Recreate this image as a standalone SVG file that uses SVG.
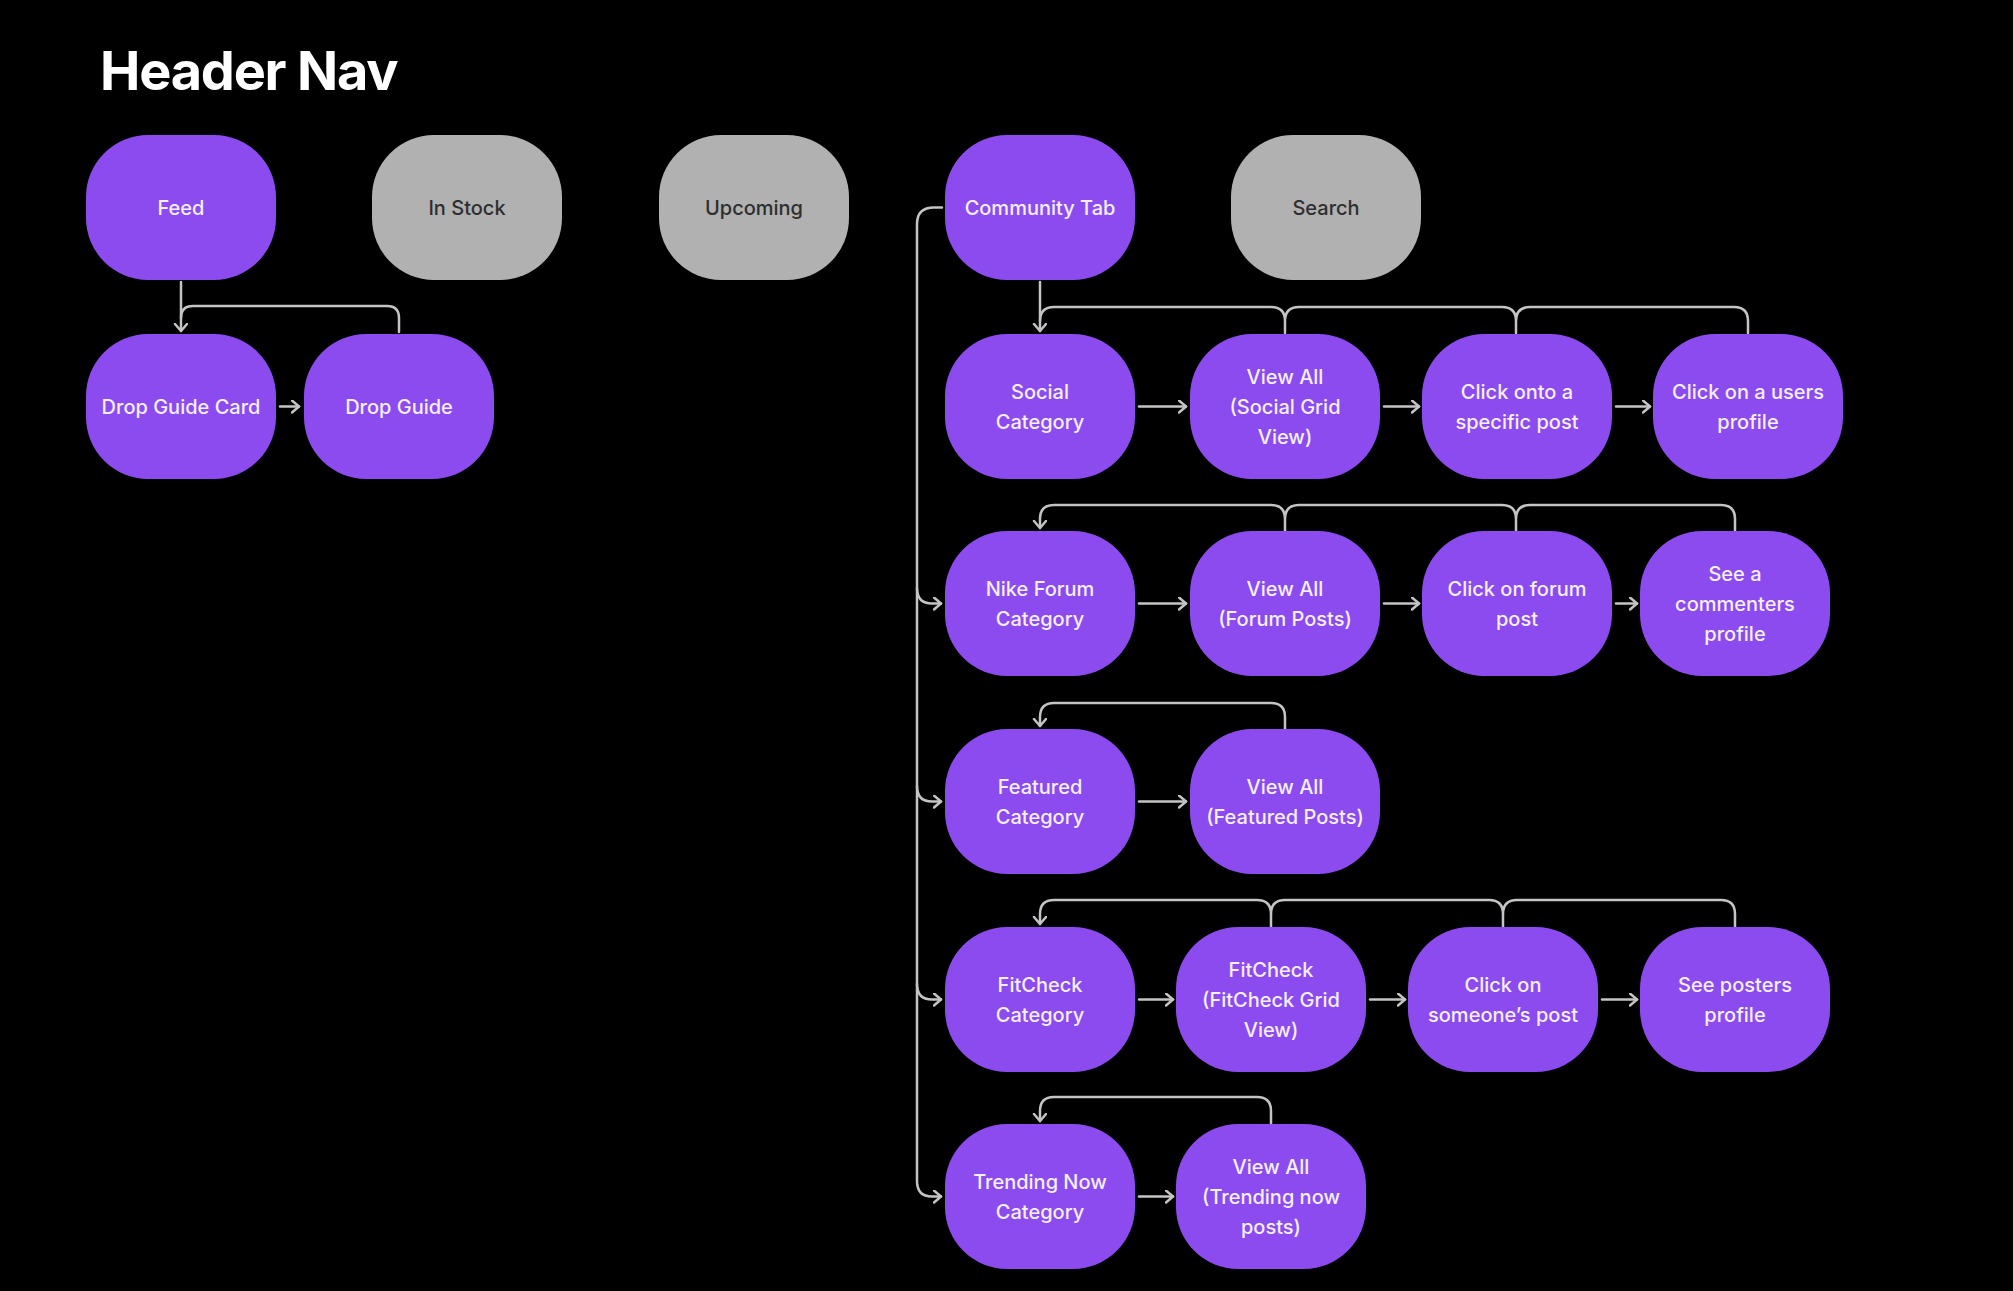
<svg xmlns="http://www.w3.org/2000/svg" width="2013" height="1291" viewBox="0 0 2013 1291">
  <defs>
    <marker id="arr" markerUnits="userSpaceOnUse" markerWidth="14" markerHeight="16" refX="8" refY="7" orient="auto">
      <path d="M1,1 L8,7 L1,13" fill="none" stroke="#c4c4c4" stroke-width="2.5" stroke-linecap="round" stroke-linejoin="round"/>
    </marker>
  </defs>
  <style>
    .bg{fill:#000}
    .p{fill:#8c4bef}
    .g{fill:#b1b1b1}
    .t{font-family:Inter,"Noto Sans","Liberation Sans",sans-serif;font-size:20px;font-weight:500;text-anchor:middle;fill:#f3effc}
    .td{fill:#2e2e2e}
    .c{fill:none;stroke:#c4c4c4;stroke-width:2.5;stroke-linecap:round;stroke-linejoin:round}
    .h{font-family:Inter,"Liberation Sans",sans-serif;font-size:54px;font-weight:700;fill:#fff;letter-spacing:-1.2px}
  </style>
  <rect class="bg" width="2013" height="1291"/>
  <text class="h" x="100" y="90">Header Nav</text>

  <g id="connectors">
    <!-- Feed branch -->
    <path class="c" d="M181,282 L181,331" marker-end="url(#arr)"/>
    <path class="c" d="M399,332 L399,318 Q399,306 387,306 L193,306 Q181,306 181,318"/>
    <path class="c" d="M280,406.5 L299,406.5" marker-end="url(#arr)"/>
    <!-- Community tab spine -->
    <path class="c" d="M942,207.5 L934,207.5 Q917,207.5 917,224 L917,1181 Q917,1196.5 932,1196.5 L941,1196.5" marker-end="url(#arr)"/>
    <path class="c" d="M917,588 Q917,603.5 932,603.5 L941,603.5" marker-end="url(#arr)"/>
    <path class="c" d="M917,786 Q917,801.5 932,801.5 L941,801.5" marker-end="url(#arr)"/>
    <path class="c" d="M917,984 Q917,999.5 932,999.5 L941,999.5" marker-end="url(#arr)"/>
    <!-- Row 2 -->
    <path class="c" d="M1040,282 L1040,331" marker-end="url(#arr)"/>
    <path class="c" d="M1040,321 Q1040,307 1054,307 L1271,307 Q1285,307 1285,321 L1285,333 M1285,321 Q1285,307 1299,307 L1502,307 Q1516,307 1516,321 L1516,333 M1516,321 Q1516,307 1530,307 L1734,307 Q1748,307 1748,321 L1748,333"/>
    <path class="c" d="M1139,406.5 L1186,406.5" marker-end="url(#arr)"/>
    <path class="c" d="M1384,406.5 L1419,406.5" marker-end="url(#arr)"/>
    <path class="c" d="M1616,406.5 L1650,406.5" marker-end="url(#arr)"/>
    <!-- Row 3 -->
    <path class="c" d="M1735,531 L1735,519 Q1735,505 1721,505 L1530,505 Q1516,505 1516,519 L1516,531 M1516,519 Q1516,505 1502,505 L1299,505 Q1285,505 1285,519 L1285,531 M1285,519 Q1285,505 1271,505 L1054,505 Q1040,505 1040,519 L1040,528" marker-end="url(#arr)"/>
    <path class="c" d="M1139,603.5 L1186,603.5" marker-end="url(#arr)"/>
    <path class="c" d="M1384,603.5 L1419,603.5" marker-end="url(#arr)"/>
    <path class="c" d="M1616,603.5 L1637,603.5" marker-end="url(#arr)"/>
    <!-- Row 4 -->
    <path class="c" d="M1285,729 L1285,717 Q1285,703 1271,703 L1054,703 Q1040,703 1040,717 L1040,726" marker-end="url(#arr)"/>
    <path class="c" d="M1139,801.5 L1186,801.5" marker-end="url(#arr)"/>
    <!-- Row 5 -->
    <path class="c" d="M1735,927 L1735,914 Q1735,900 1721,900 L1517,900 Q1503,900 1503,914 L1503,927 M1503,914 Q1503,900 1489,900 L1285,900 Q1271,900 1271,914 L1271,927 M1271,914 Q1271,900 1257,900 L1054,900 Q1040,900 1040,914 L1040,924" marker-end="url(#arr)"/>
    <path class="c" d="M1139,999.5 L1173,999.5" marker-end="url(#arr)"/>
    <path class="c" d="M1370,999.5 L1405,999.5" marker-end="url(#arr)"/>
    <path class="c" d="M1602,999.5 L1637,999.5" marker-end="url(#arr)"/>
    <!-- Row 6 -->
    <path class="c" d="M1271,1124 L1271,1111 Q1271,1097 1257,1097 L1054,1097 Q1040,1097 1040,1111 L1040,1121" marker-end="url(#arr)"/>
    <path class="c" d="M1139,1196.5 L1173,1196.5" marker-end="url(#arr)"/>
  </g>

  <g id="feed"><rect class="p" x="86" y="135" width="190" height="145" rx="62"/><text class="t" x="181" y="214.5">Feed</text></g>
  <g id="in-stock"><rect class="g" x="372" y="135" width="190" height="145" rx="62"/><text class="t td" x="467" y="214.5">In Stock</text></g>
  <g id="upcoming"><rect class="g" x="659" y="135" width="190" height="145" rx="62"/><text class="t td" x="754" y="214.5">Upcoming</text></g>
  <g id="community-tab"><rect class="p" x="945" y="135" width="190" height="145" rx="62"/><text class="t" x="1040" y="214.5">Community Tab</text></g>
  <g id="search"><rect class="g" x="1231" y="135" width="190" height="145" rx="62"/><text class="t td" x="1326" y="214.5">Search</text></g>

  <g id="drop-guide-card"><rect class="p" x="86" y="334" width="190" height="145" rx="62"/><text class="t" x="181" y="413.5">Drop Guide Card</text></g>
  <g id="drop-guide"><rect class="p" x="304" y="334" width="190" height="145" rx="62"/><text class="t" x="399" y="413.5">Drop Guide</text></g>

  <g id="social-category"><rect class="p" x="945" y="334" width="190" height="145" rx="62"/><text class="t" x="1040" y="398.5">Social</text><text class="t" x="1040" y="428.5">Category</text></g>
  <g id="view-all-social"><rect class="p" x="1190" y="334" width="190" height="145" rx="62"/><text class="t" x="1285" y="383.5">View All</text><text class="t" x="1285" y="413.5">(Social Grid</text><text class="t" x="1285" y="443.5">View)</text></g>
  <g id="click-onto-post"><rect class="p" x="1422" y="334" width="190" height="145" rx="62"/><text class="t" x="1517" y="398.5">Click onto a</text><text class="t" x="1517" y="428.5">specific post</text></g>
  <g id="click-users-profile"><rect class="p" x="1653" y="334" width="190" height="145" rx="62"/><text class="t" x="1748" y="398.5">Click on a users</text><text class="t" x="1748" y="428.5">profile</text></g>

  <g id="nike-forum-category"><rect class="p" x="945" y="531" width="190" height="145" rx="62"/><text class="t" x="1040" y="595.5">Nike Forum</text><text class="t" x="1040" y="625.5">Category</text></g>
  <g id="view-all-forum"><rect class="p" x="1190" y="531" width="190" height="145" rx="62"/><text class="t" x="1285" y="595.5">View All</text><text class="t" x="1285" y="625.5">(Forum Posts)</text></g>
  <g id="click-forum-post"><rect class="p" x="1422" y="531" width="190" height="145" rx="62"/><text class="t" x="1517" y="595.5">Click on forum</text><text class="t" x="1517" y="625.5">post</text></g>
  <g id="see-commenters-profile"><rect class="p" x="1640" y="531" width="190" height="145" rx="62"/><text class="t" x="1735" y="580.5">See a</text><text class="t" x="1735" y="610.5">commenters</text><text class="t" x="1735" y="640.5">profile</text></g>

  <g id="featured-category"><rect class="p" x="945" y="729" width="190" height="145" rx="62"/><text class="t" x="1040" y="793.5">Featured</text><text class="t" x="1040" y="823.5">Category</text></g>
  <g id="view-all-featured"><rect class="p" x="1190" y="729" width="190" height="145" rx="62"/><text class="t" x="1285" y="793.5">View All</text><text class="t" x="1285" y="823.5">(Featured Posts)</text></g>

  <g id="fitcheck-category"><rect class="p" x="945" y="927" width="190" height="145" rx="62"/><text class="t" x="1040" y="991.5">FitCheck</text><text class="t" x="1040" y="1021.5">Category</text></g>
  <g id="fitcheck-grid"><rect class="p" x="1176" y="927" width="190" height="145" rx="62"/><text class="t" x="1271" y="976.5">FitCheck</text><text class="t" x="1271" y="1006.5">(FitCheck Grid</text><text class="t" x="1271" y="1036.5">View)</text></g>
  <g id="click-someones-post"><rect class="p" x="1408" y="927" width="190" height="145" rx="62"/><text class="t" x="1503" y="991.5">Click on</text><text class="t" x="1503" y="1021.5">someone’s post</text></g>
  <g id="see-posters-profile"><rect class="p" x="1640" y="927" width="190" height="145" rx="62"/><text class="t" x="1735" y="991.5">See posters</text><text class="t" x="1735" y="1021.5">profile</text></g>

  <g id="trending-now-category"><rect class="p" x="945" y="1124" width="190" height="145" rx="62"/><text class="t" x="1040" y="1188.5">Trending Now</text><text class="t" x="1040" y="1218.5">Category</text></g>
  <g id="view-all-trending"><rect class="p" x="1176" y="1124" width="190" height="145" rx="62"/><text class="t" x="1271" y="1173.5">View All</text><text class="t" x="1271" y="1203.5">(Trending now</text><text class="t" x="1271" y="1233.5">posts)</text></g>
</svg>
